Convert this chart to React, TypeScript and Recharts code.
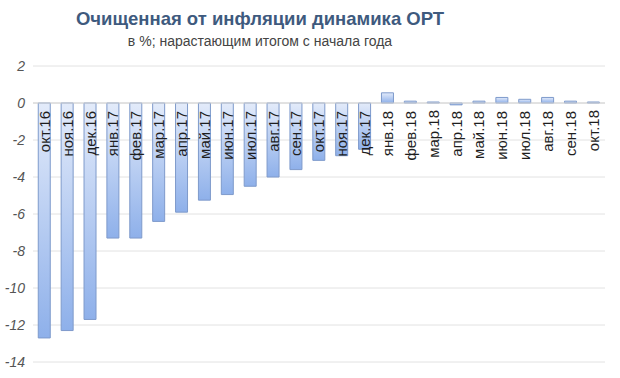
import { BarChart, Bar, XAxis, YAxis, CartesianGrid, ReferenceLine, LabelList } from "recharts";

const months = [
  "окт.16", "ноя.16", "дек.16",
  "янв.17", "фев.17", "мар.17", "апр.17", "май.17", "июн.17",
  "июл.17", "авг.17", "сен.17", "окт.17", "ноя.17", "дек.17",
  "янв.18", "фев.18", "мар.18", "апр.18", "май.18", "июн.18",
  "июл.18", "авг.18", "сен.18", "окт.18",
];
const values = [
  -12.7, -12.3, -11.7,
  -7.3, -7.3, -6.4, -5.9, -5.25, -4.95,
  -4.5, -4.0, -3.6, -3.1, -2.85, -2.5,
  0.55, 0.1, 0, -0.1, 0.1, 0.3,
  0.2, 0.3, 0.1, 0,
];
const yTicks = [2, 0, -2, -4, -6, -8, -10, -12, -14];

const data = months.map((m, i) => ({ month: m, value: values[i] }));

const FONT = "'Liberation Sans', Arial, sans-serif";

// month label sits just under the zero line, reading bottom-to-top
const MonthLabel = (props: any) => {
  const { x, y, width, height, value } = props;
  const v = values[months.indexOf(value)];
  const top = Math.min(y, y + height);
  const bottom = Math.max(y, y + height);
  const zero = v > 0 ? bottom : top;
  const cx = x + width / 2;
  const ly = zero + 8;
  return (
    <text
      x={cx}
      y={ly}
      transform={`rotate(-90 ${cx} ${ly})`}
      textAnchor="end"
      dominantBaseline="central"
      fontSize={15}
      fontFamily={FONT}
      fill="#1e1e1e"
    >
      {value}
    </text>
  );
};

export default function App() {
  return (
    <div style={{ position: "absolute", left: 0, top: 0, width: 620, height: 378, background: "#fff" }}>
      <div
        style={{
          position: "absolute", left: 0, width: 520, top: 8, textAlign: "center",
          fontFamily: FONT, fontWeight: "bold", fontSize: 18.5, color: "#3e5a7e",
        }}
      >
        Очищенная от инфляции динамика ОРТ
      </div>
      <div
        style={{
          position: "absolute", left: 0, width: 520, top: 33, textAlign: "center",
          fontFamily: FONT, fontSize: 14, color: "#444",
        }}
      >
        в %; нарастающим итогом с начала года
      </div>
      <BarChart
        width={620}
        height={378}
        data={data}
        margin={{ top: 66, right: 15, bottom: 16, left: 0 }}
        barCategoryGap="23%"
      >
        <defs>
          <linearGradient id="barFill" x1="0" y1="0" x2="0" y2="1">
            <stop offset="0%" stopColor="#e3ebfa" />
            <stop offset="100%" stopColor="#8eb0ea" />
          </linearGradient>
        </defs>
        <CartesianGrid vertical={false} stroke="#e2e2e2" />
        <XAxis dataKey="month" hide />
        <YAxis
          domain={[-14, 2]}
          ticks={yTicks}
          width={33}
          axisLine={false}
          tickLine={false}
          tick={{ fontSize: 14, fontStyle: "italic", fill: "#555", fontFamily: FONT }}
        />
        <ReferenceLine y={0} stroke="#d2d2d2" />
        <Bar
          dataKey="value"
          fill="url(#barFill)"
          stroke="#7e9acb"
          strokeWidth={1}
          minPointSize={1}
          isAnimationActive={false}
        >
          <LabelList dataKey="month" content={MonthLabel} />
        </Bar>
      </BarChart>
    </div>
  );
}
